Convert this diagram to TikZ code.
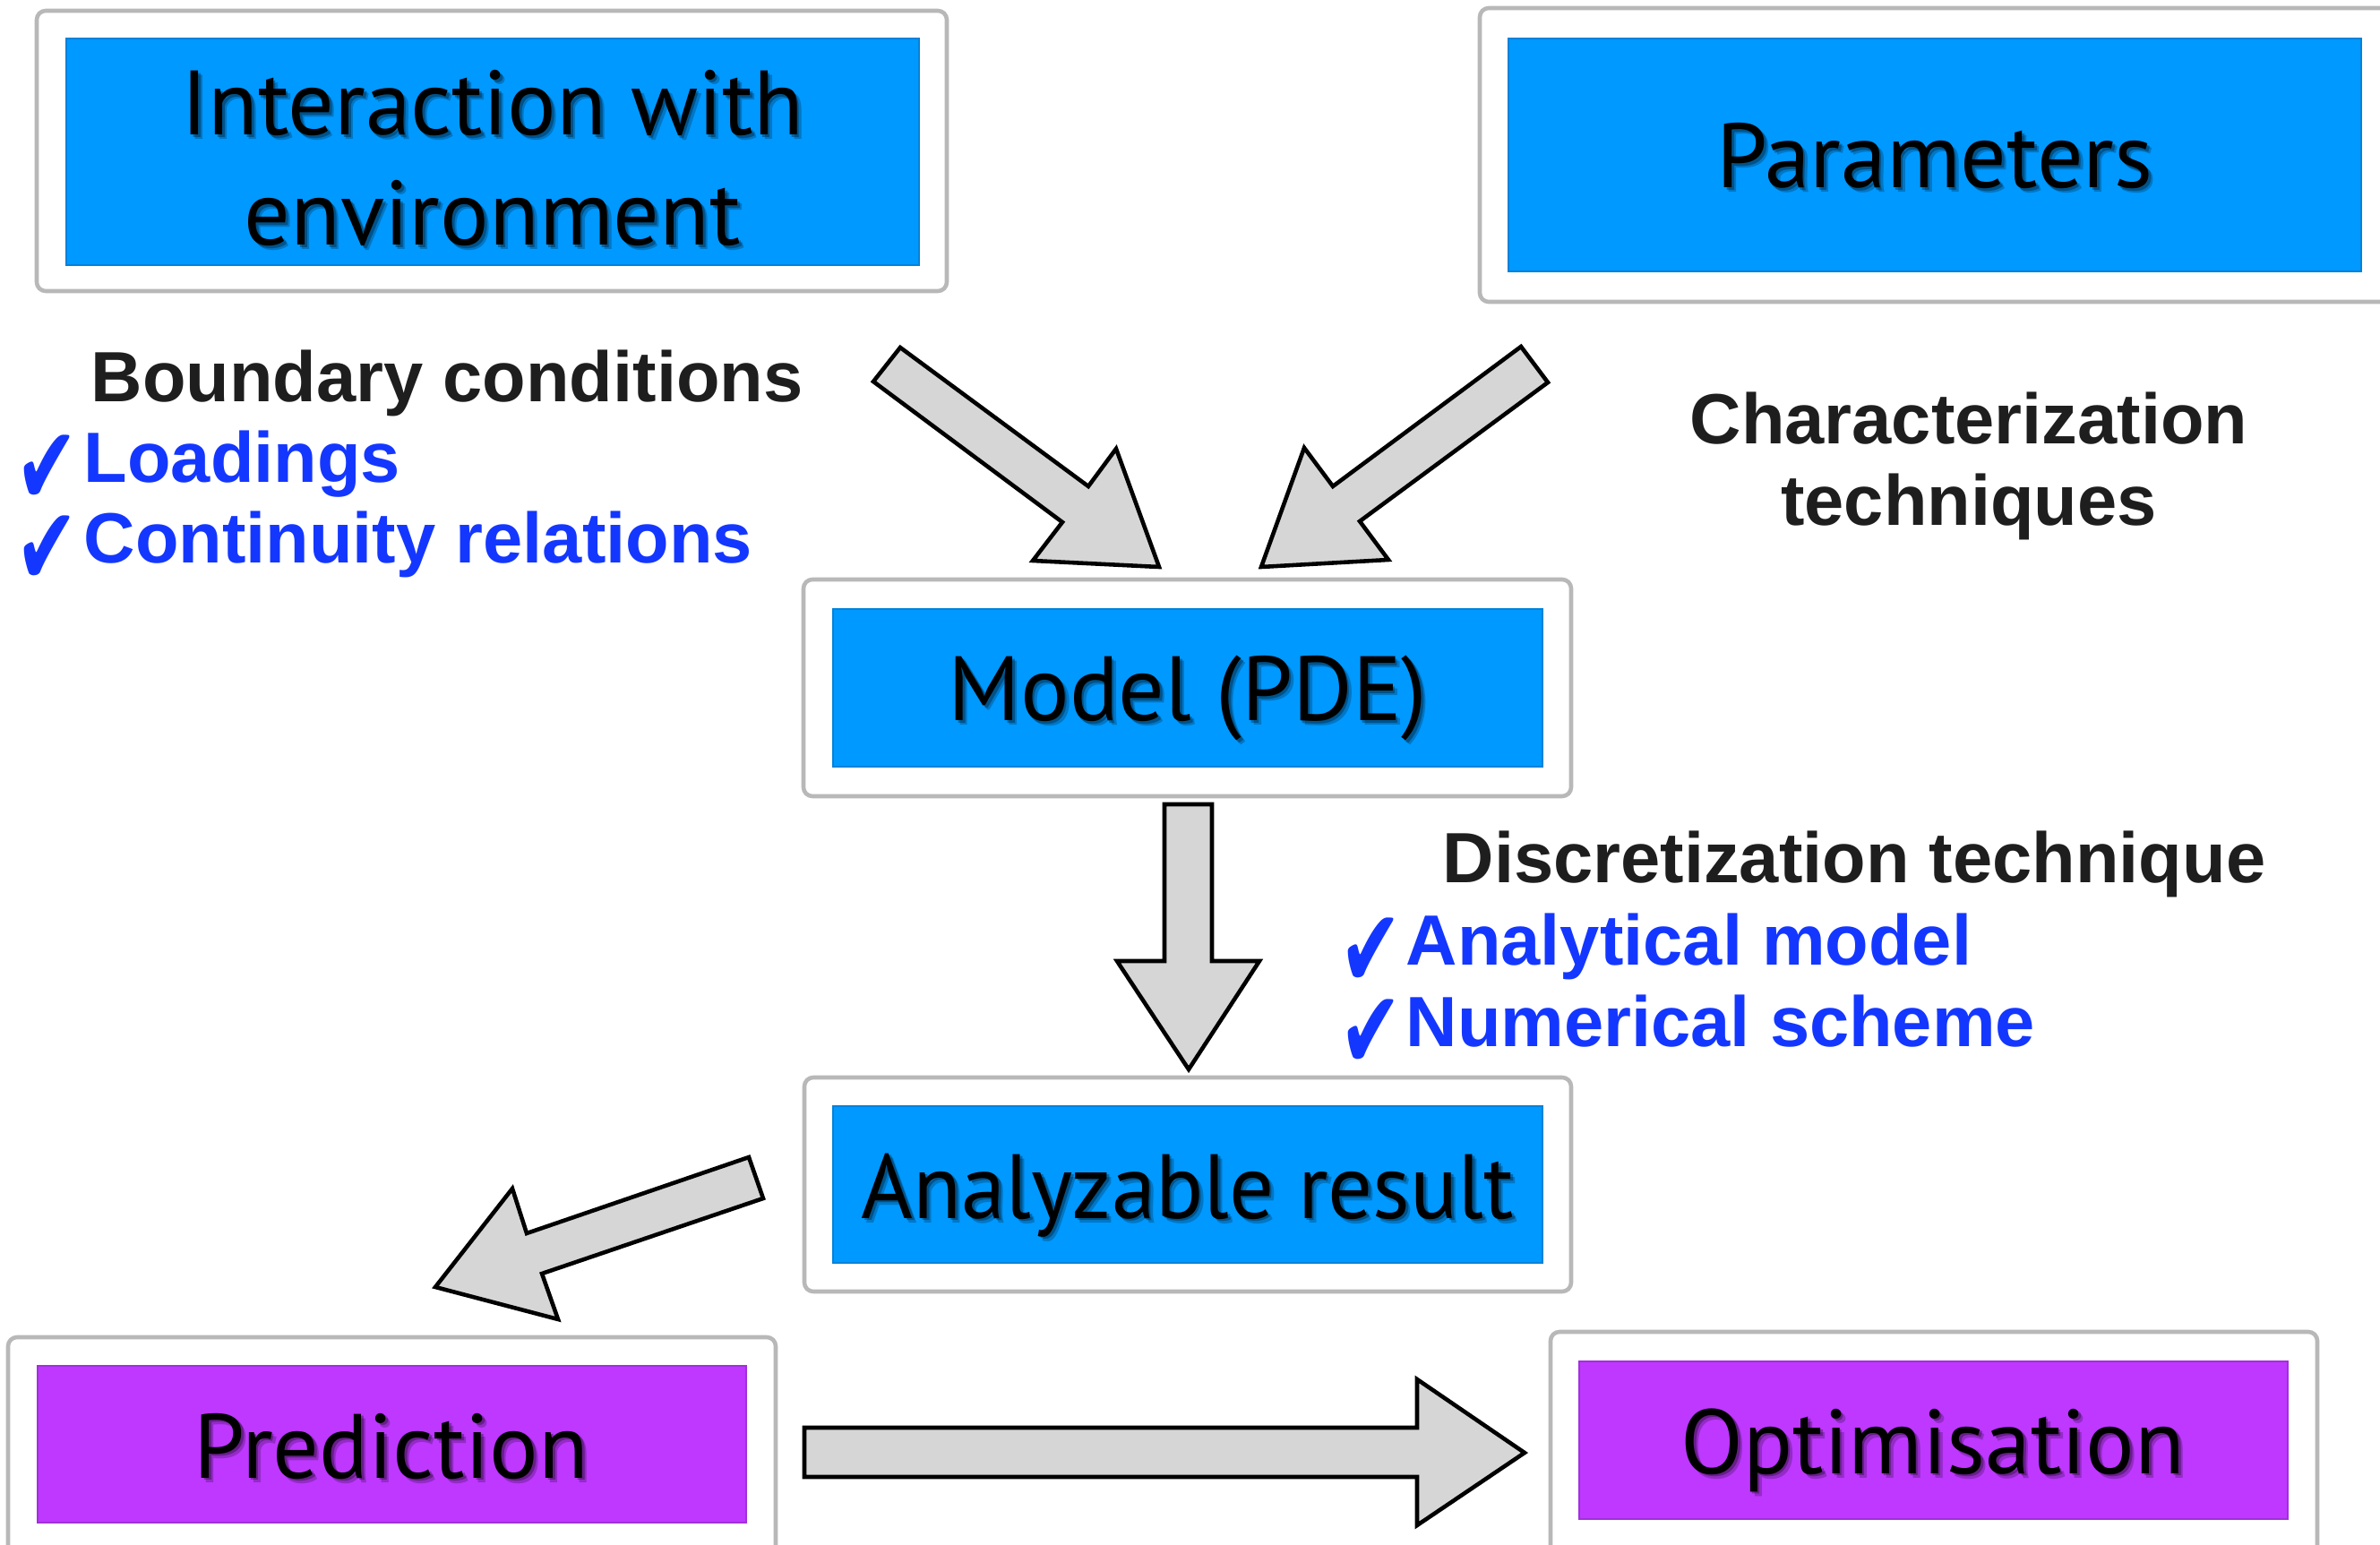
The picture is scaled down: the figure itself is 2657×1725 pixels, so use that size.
\documentclass[tikz,border=0pt]{standalone}
\usepackage{fontspec}
\setmainfont{Liberation Sans}
\newfontfamily\boxfont{PT Sans}
\newfontfamily\tickfont{DejaVu Sans}
\usetikzlibrary{fit,calc}

\definecolor{skyfill}{RGB}{0,153,255}
\definecolor{violetfill}{RGB}{190,56,255}
\definecolor{labelink}{RGB}{30,30,30}
\definecolor{listink}{RGB}{20,55,255}
\definecolor{arrowfill}{RGB}{214,214,214}

\tikzset{
  frame/.style={draw=black!28, line width=1.3pt, fill=white, rounded corners=0.1cm, inner sep=0pt},
  skybox/.style={fill=skyfill, draw=skyfill!85!black, line width=0.4pt, inner sep=0pt},
  violetbox/.style={fill=violetfill, draw=violetfill!85!black, line width=0.4pt, inner sep=0pt},
  boxtext/.style={inner sep=0pt, anchor=base, text=black,
    font=\boxfont\fontsize{29pt}{35pt}\selectfont},
  boxshade/.style={boxtext, text=black, opacity=0.22},
  heading/.style={inner sep=0pt, anchor=base west, text=labelink,
    font=\bfseries\fontsize{22.6pt}{25.7pt}\selectfont},
  listitem/.style={heading, text=listink, align=left},
  tickmark/.style={inner sep=0pt, anchor=base west, text=listink,
    font=\tickfont\fontsize{35pt}{36pt}\selectfont},
  blockarrow/.style={draw=black, fill=arrowfill, line width=1.3pt, line join=miter},
}

% label with a soft shadow below right
\newcommand\shadedlabel[4]{%
  \node[boxshade] (#1-shade1) at ($(#2,#3)+(5,5)$) {#4};
  \node[boxshade, opacity=0.3] (#1-shade2) at ($(#2,#3)+(2.5,2.5)$) {#4};
  \node[boxtext] (#1) at (#2,#3) {#4};}

\newcommand\tickglyph{\scalebox{0.68}[1]{✔}}

\begin{document}
\begin{tikzpicture}[x=0.01cm, y=-0.01cm]
\useasboundingbox (0,0) rectangle (2657,1725);

% outer white frames
\node[frame, fit={(41,12) (1057,325)}] (interact-frame) {};
\node[frame, fit={(1652,9) (2700,337)}] (param-frame) {};
\node[frame, fit={(897,647) (1754,889)}] (model-frame) {};
\node[frame, fit={(898,1203) (1754,1442)}] (result-frame) {};
\node[frame, fit={(9,1493) (866,1760)}] (predict-frame) {};
\node[frame, fit={(1731,1487) (2587,1760)}] (optim-frame) {};

% coloured panels
\node[skybox, fit={(74,43) (1026,296)}] (interact-box) {};
\node[skybox, fit={(1684,43) (2636,303)}] (param-box) {};
\node[skybox, fit={(930,680) (1722,856)}] (model-box) {};
\node[skybox, fit={(930,1235) (1722,1410)}] (result-box) {};
\node[violetbox, fit={(42,1525) (833,1700)}] (predict-box) {};
\node[violetbox, fit={(1763,1520) (2554,1696)}] (optim-box) {};

% panel titles
\shadedlabel{interact-a}{550}{151}{Interaction with}
\shadedlabel{interact-b}{550}{274}{environment}
\shadedlabel{param}{2160}{210}{Parameters}
\shadedlabel{model}{1326}{805}{Model (PDE)}
\shadedlabel{result}{1326}{1360}{\scalebox{0.97}[1]{Analyzable result}}
\shadedlabel{predict}{437}{1650}{Prediction}
\shadedlabel{optim}{2158}{1645}{Optimisation}

% block arrows
\draw[blockarrow] (1005,388) -- (1215,543) -- (1246,501) -- (1294,633)
  -- (1153,626) -- (1186,583) -- (975,426) -- cycle;
\draw[blockarrow] (1698,387) -- (1728,427) -- (1518,582) -- (1550,625)
  -- (1408,633) -- (1456,500) -- (1488,543) -- cycle;
\draw[blockarrow] (1300,898) -- (1353,898) -- (1353,1073) -- (1406,1073)
  -- (1327,1194) -- (1247,1073) -- (1300,1073) -- cycle;
\draw[blockarrow] (836,1292) -- (852,1338) -- (605,1422) -- (623,1473)
  -- (486,1437) -- (572,1327) -- (588,1377) -- cycle;
\draw[blockarrow] (898,1594) -- (1582,1594) -- (1582,1540) -- (1702,1622)
  -- (1582,1703) -- (1582,1649) -- (898,1649) -- cycle;

% side notes (a two-line node sits on the baseline of its last line)
\node[heading] (bc) at (101,449) {Boundary conditions};
\node[tickmark] (tick-load) at (17,564) {\tickglyph};
\node[tickmark] (tick-cont) at (17,654) {\tickglyph};
\node[listitem] (bc-items) at (93,629) {Loadings\\Continuity relations};

\node[heading, anchor=base] (charac-a) at (2198,496) {Characterization};
\node[heading, anchor=base] (charac-b) at (2198,587) {techniques};

\node[heading] (discr) at (1610,985) {Discretization technique};
\node[tickmark] (tick-ana) at (1495,1102) {\tickglyph};
\node[tickmark] (tick-num) at (1495,1193) {\tickglyph};
\node[listitem] (discr-items) at (1569,1168) {Analytical model\\Numerical scheme};
\end{tikzpicture}
\end{document}
